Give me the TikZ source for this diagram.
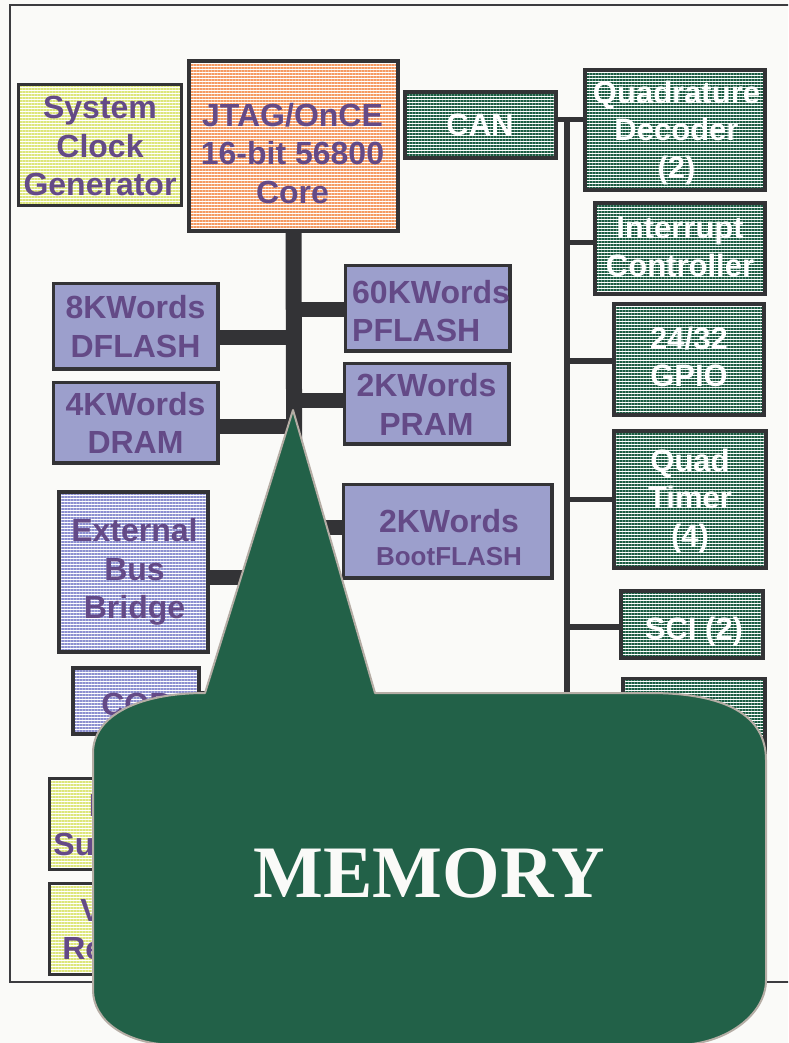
\documentclass[tikz,border=0pt]{standalone}
\usepackage{fontspec}
\setmainfont{Liberation Sans}
\newfontfamily\memfont{Liberation Serif}
\usetikzlibrary{patterns.meta}
\definecolor{bg}{HTML}{FAFAF8}
\definecolor{framec}{HTML}{3C3C40}
\definecolor{barc}{HTML}{333336}
\definecolor{purp}{HTML}{644A87}
\definecolor{lav}{HTML}{9C9FCC}
\definecolor{lavline}{HTML}{8C8FD0}
\definecolor{orgline}{HTML}{F59A62}
\definecolor{ylwline}{HTML}{DDE67A}
\definecolor{grnline}{HTML}{1A5C42}
\definecolor{calloutc}{HTML}{226148}
\definecolor{calllinec}{HTML}{B5ADA5}
\newcommand\labfont{\fontsize{32}{38.5}\selectfont\bfseries}
\newcommand\wlabfont{\fontsize{31}{37.5}\selectfont\bfseries}
\begin{document}
\begin{tikzpicture}[x=1pt,y=-1pt,
  box/.style={draw=barc, line width=2.5pt, inner sep=0pt, rectangle},
  solidbox/.style={box, fill=lav},
  striped/.style={box, preaction={fill=white},
    pattern={Lines[angle=0,distance=3pt,line width=1.1pt]}, pattern color=#1},
  bigbar/.style={draw=barc, line width=15pt},
  thinbar/.style={draw=barc, line width=5.5pt},
  txt/.style={inner sep=0pt, align=center, font=\labfont, text=purp},
  wtxt/.style={inner sep=0pt, align=center, font=\wlabfont, text=white},
  callout/.style={fill=calloutc, draw=calllinec, line width=2pt, line join=round}]
\useasboundingbox (0,0) rectangle (788,1043);
\clip (0,0) rectangle (788,1043);
\fill[bg] (0,0) rectangle (788,1043);
\draw[framec, line width=2.5pt] (10,5) rectangle (800,982);

% coordinates for buses
\coordinate (busL) at (295,708);
\coordinate (busRtop) at (567,117);
\coordinate (busRbot) at (567,780);

% boxes (left / core)
\node[striped=ylwline, minimum width=163pt, minimum height=121pt] (scg) at (100,145) {};
\node[striped=orgline, minimum width=208pt, minimum height=169pt] (core) at (293.5,146) {};
\node[solidbox, minimum width=163pt, minimum height=84pt] (dflash) at (135.5,326) {};
\node[solidbox, minimum width=163pt, minimum height=79pt] (dram) at (135.5,422.5) {};
\node[solidbox, minimum width=163pt, minimum height=84pt] (pflash) at (427.5,308) {};
\node[solidbox, minimum width=163pt, minimum height=79pt] (pram) at (426.5,403.5) {};
\node[solidbox, minimum width=207pt, minimum height=92pt] (boot) at (447.5,531) {};
\node[striped=lavline, minimum width=148pt, minimum height=159pt] (ebb) at (133.5,572) {};
\node[striped=lavline, minimum width=125pt, minimum height=65pt] (cop) at (136,701) {};
\node[striped=ylwline, minimum width=175pt, minimum height=91pt] (psup) at (137,824) {};
\node[striped=ylwline, minimum width=175pt, minimum height=91pt] (vreg) at (137,929) {};

% boxes (right / peripherals)
\node[striped=grnline, minimum width=150pt, minimum height=65pt] (can) at (480.5,125) {};
\node[striped=grnline, minimum width=179pt, minimum height=119pt] (quad) at (675,130) {};
\node[striped=grnline, minimum width=169pt, minimum height=90pt] (intc) at (680,248.5) {};
\node[striped=grnline, minimum width=149pt, minimum height=110pt] (gpio) at (689,359.5) {};
\node[striped=grnline, minimum width=151pt, minimum height=136pt] (qtimer) at (690,499.5) {};
\node[striped=grnline, minimum width=141pt, minimum height=66pt] (sci) at (692,624.5) {};
\node[striped=grnline, minimum width=141pt, minimum height=80pt] (per6) at (694,719) {};

% core bus
\draw[bigbar, line width=16pt] (core.south) -- (busL);
\draw[bigbar] ([yshift=-11.5pt]dflash.east) -- ([yshift=-11.5pt]dflash.east -| busL);
\draw[bigbar] ([yshift=-4pt]dram.east) -- ([yshift=-4pt]dram.east -| busL);
\draw[bigbar] ([yshift=-1.5pt]pflash.west) -- ([yshift=-1.5pt]pflash.west -| busL);
\draw[bigbar] ([yshift=3pt]pram.west) -- ([yshift=3pt]pram.west -| busL);
\draw[bigbar] ([yshift=4pt]boot.west) -- ([yshift=4pt]boot.west -| busL);
\draw[bigbar] ([yshift=-5.5pt]ebb.east) -- ([yshift=-5.5pt]ebb.east -| busL);
\draw[bigbar] ([yshift=3pt]cop.east) -- ([yshift=3pt]cop.east -| busL);

% peripheral bus
\draw[thinbar] (busRtop) -- (busRbot);
\draw[thinbar] ([yshift=5.5pt]can.east) -- ([yshift=5.5pt]can.east -| quad.west);
\draw[thinbar] ([yshift=6pt]intc.west) -- ([yshift=6pt]intc.west -| busRtop);
\draw[thinbar] ([yshift=-1.5pt]gpio.west) -- ([yshift=-1.5pt]gpio.west -| busRtop);
\draw[thinbar] (qtimer.west) -- (qtimer.west -| busRtop);
\draw[thinbar] ([yshift=-2.5pt]sci.west) -- ([yshift=-2.5pt]sci.west -| busRtop);
\draw[thinbar] (per6.west) -- (per6.west -| busRtop);

% redraw box borders over connector ends
\foreach \n in {core,dflash,dram,pflash,pram,boot,ebb,cop,can,quad,intc,gpio,qtimer,sci,per6}
  \draw[barc, line width=2.5pt] (\n.south west) rectangle (\n.north east);

% texts
\node[txt] (scg-t) at (100,146) {System\\Clock\\Generator};
\node[txt] (core-t) at (292.5,153.5) {JTAG/OnCE\\16-bit 56800\\Core};
\node[txt] (dflash-t) at (135.5,326.5) {8KWords\\DFLASH};
\node[txt] (dram-t) at (135.5,423) {4KWords\\DRAM};
\node[txt, align=left, anchor=west] (pflash-t) at (352,311) {60KWords\\PFLASH};
\node[txt] (pram-t) at (426.5,404.5) {2KWords\\PRAM};
\node[txt] (boot-t) at (449,538) {2KWords\\[-5.5pt]{\fontsize{26}{30}\selectfont BootFLASH}};
\node[txt] (ebb-t) at (134.5,572) {External\\Bus\\Bridge};
\node[txt] (cop-t) at (136,704) {COP};
\node[txt] (psup-t) at (137,828.5) {Power\\Supervisor};
\node[txt] (vreg-t) at (137,932.5) {Voltage\\Regulator};

\node[wtxt] (can-t) at (480,124.5) {CAN};
\node[wtxt] (quad-t) at (676.5,132.5) {Quadrature\\Decoder\\(2)};
\node[wtxt] (intc-t) at (680,247) {Interrupt\\Controller};
\node[wtxt] (gpio-t) at (689,357) {24/32\\GPIO};
\node[wtxt] (qtimer-t) at (690,500.5) {Quad\\Timer\\(4)};
\node[wtxt] (sci-t) at (694,631) {SCI (2)};

% callout
\draw[callout] (293,410) -- (375,693) -- (650,693)
  .. controls (725,693) and (766,715) .. (766,760) -- (766,980)
  .. controls (766,1015) and (725,1045) .. (677,1045) -- (177,1045)
  .. controls (125,1045) and (93,1020) .. (93,990) -- (93,753)
  .. controls (93,715) and (140,693) .. (205,693) -- cycle;
\node[anchor=base, inner sep=0pt, text=bg, font=\memfont\bfseries\fontsize{74}{80}\selectfont] (mem) at (429,897) {MEMORY};
\end{tikzpicture}
\end{document}
